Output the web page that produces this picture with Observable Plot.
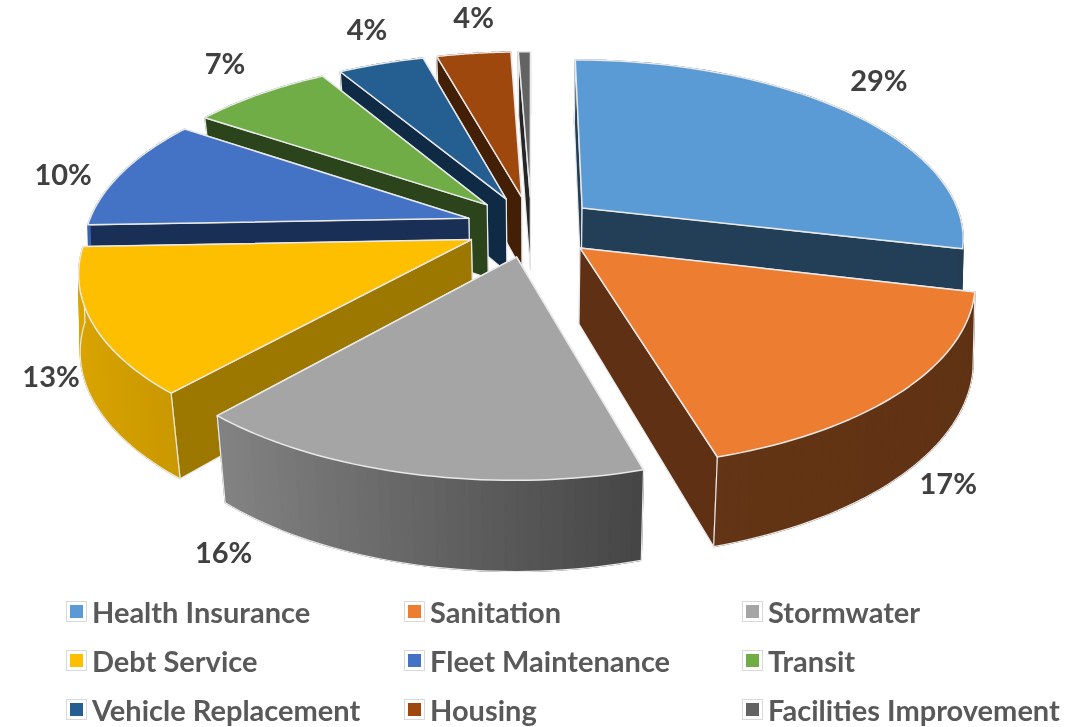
<!DOCTYPE html>
<html><head><meta charset="utf-8">
<script src="https://cdn.jsdelivr.net/npm/d3@7"></script>
<script src="https://cdn.jsdelivr.net/npm/@observablehq/plot@0.6"></script>
<style>
html,body{margin:0;padding:0;background:#fff;overflow:hidden}
#legend{display:grid;grid-template-columns:338px 338px auto;grid-auto-rows:49px;margin-left:66px;font:700 29px Lato,sans-serif;color:#595959;filter:blur(0.4px)}
#legend div{display:flex;align-items:center;white-space:nowrap}
#legend i{box-sizing:border-box;display:inline-block;width:21px;height:21px;border:1px solid #d9d9d9;margin-right:5px;padding:3px;background-clip:content-box}
svg{display:block;filter:blur(0.4px)}
</style></head><body>
<div id="chart"></div><div id="legend"></div>
<script>
const categories = ["Health Insurance","Sanitation","Stormwater","Debt Service","Fleet Maintenance","Transit","Vehicle Replacement","Housing","Facilities Improvement"];
const values = [28.7,16.8,16.1,12.8,10,7,4.3,3.7,0.6];
const labels = ["29%","17%","16%","13%","10%","7%","4%","4%",""];
const colors = ["#5b9bd5","#ed7d31","#a5a5a5","#fdbf00","#4472c4","#70ad47","#255e91","#9e480e","#636363"];
const sideColors = ["#233f58","#5f3013","#5a5a5a","#9c7800","#1a2f55","#2b441c","#0f2a44","#431f05","#262626"];
const labelNudge = [[33,-29],[45,94],[-187,80],[-41,55],[-59,3],[-35,-29],[-14,-33],[0,-35],[0,0]];

// perspective view of the exploded disc
const view = {cx:531, cy:226, rx:381.5, ry:177, p:0.159, explode:0.172};
const rad = d => d*Math.PI/180;
function project(u,v){const s=1/(1-view.p*v);return {x:view.cx+view.rx*u*s,y:view.cy+view.ry*v*s};}
const baseShift = d3.scaleLinear().domain([-460,-360,0,200,440]).range([1,9,0,-4,-2]);
function lower(q){
  return {x:q.x+baseShift(q.x-view.cx),y:q.y+60+0.065*q.y};
}
const wallShade = d3.scaleLinear().domain([-1.05,-0.68,0.28,1.1]).range([0.88,0.8,0.42,0.4]).clamp(true);
function scaleColor(c,k){const r=d3.rgb(c);return d3.rgb(r.r*k,r.g*k,r.b*k).formatHex();}

const total = d3.sum(values);
let acc = 0;
const slices = values.map((val,i)=>{
  const a0=acc/total*360; acc+=val; const a1=acc/total*360; const mid=(a0+a1)/2;
  const u0=view.explode*Math.sin(rad(mid)), v0=-view.explode*Math.cos(rad(mid));
  const rim=d3.range(0,41).map(k=>{const a=a0+(a1-a0)*k/40;return {a,u:Math.sin(rad(a)),v:-Math.cos(rad(a))};});
  const rimP=rim.map(r=>({...project(u0+r.u,v0+r.v),a:r.a,u:r.u,v:r.v}));
  return {i,a0,a1,mid,apex:project(u0,v0),rimP,
    order:v0,anchor:project(u0+Math.sin(rad(mid)),v0-Math.cos(rad(mid)))};
});

const marks=[];
const edge="#e9e9e9";
function poly(points,fill,stroke,w){
  marks.push(Plot.line([...points,points[0]],{x:"x",y:"y",fill,stroke:stroke||fill,strokeWidth:w||1.2,strokeLinejoin:"round"}));
}
d3.sort(slices,d=>d.order).forEach(s=>{
  const side=sideColors[s.i], base=colors[s.i];
  const quads=d3.pairs(s.rimP).map(([a,b])=>({pts:[a,b,lower(b),lower(a)],mu:(a.u+b.u)/2,mv:(a.v+b.v)/2}));
  quads.filter(q=>q.mv<0).forEach(q=>poly(q.pts,scaleColor(base,wallShade(q.mu))));
  const first=s.rimP[0], last=s.rimP[s.rimP.length-1];
  const faces=[{q:[s.apex,first,lower(first),lower(s.apex)],f:-Math.sin(rad(s.a0))},
               {q:[s.apex,last,lower(last),lower(s.apex)],f:Math.sin(rad(s.a1))}];
  d3.sort(faces,d=>d.f).forEach(f=>poly(f.q,side,edge,1.2));
  quads.filter(q=>q.mv>=0).forEach(q=>poly(q.pts,scaleColor(base,wallShade(q.mu))));
  // outline of the visible outer wall
  const front=s.rimP.filter(r=>r.v>=0);
  if(front.length>8){
    marks.push(Plot.line(front.map(lower),{x:"x",y:"y",stroke:edge,strokeWidth:1.2}));
    marks.push(Plot.line([front[0],lower(front[0])],{x:"x",y:"y",stroke:edge,strokeWidth:1.2}));
    marks.push(Plot.line([front[front.length-1],lower(front[front.length-1])],{x:"x",y:"y",stroke:edge,strokeWidth:1.2}));
  }
  poly([s.apex,...s.rimP],base,edge,1.5);
});
slices.forEach(s=>{
  if(!labels[s.i])return;
  marks.push(Plot.text([s.anchor],{x:"x",y:"y",text:()=>labels[s.i],dx:labelNudge[s.i][0],dy:labelNudge[s.i][1],
    fontSize:29,fontWeight:700,fontFamily:"Lato, sans-serif",fill:"#404040"}));
});

const chart=Plot.plot({width:1089,height:587,margin:0,
  x:{domain:[0,1089],range:[0,1089],axis:null},
  y:{domain:[0,587],range:[0,587],axis:null},
  marks});
document.getElementById("chart").append(chart);
const lg=document.getElementById("legend");
categories.forEach((c,i)=>{
  const d=document.createElement("div");
  const sw=document.createElement("i");sw.style.backgroundColor=colors[i];
  d.append(sw,document.createTextNode(c));lg.append(d);
});
</script></body></html>
